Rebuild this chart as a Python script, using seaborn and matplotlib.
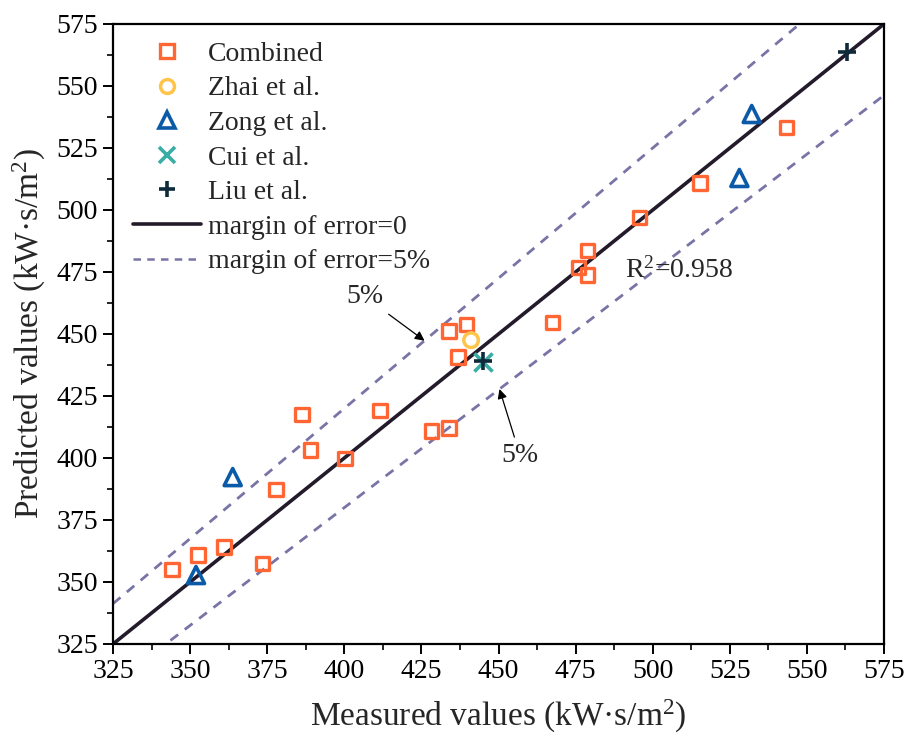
import matplotlib
matplotlib.use("Agg")
import matplotlib.pyplot as plt
from matplotlib.ticker import AutoMinorLocator
from matplotlib.lines import Line2D
import numpy as np
import pandas as pd
import seaborn as sns

# ---- data ----
combined_x = [344.2, 352.6, 361.0, 373.5, 377.8, 386.2, 389.0, 400.2, 411.5, 428.3,
              434.0, 434.0, 439.6, 436.8, 467.5, 475.9, 478.8, 478.8, 495.7, 515.3, 543.4]
combined_y = [355.1, 360.8, 364.2, 357.4, 387.2, 417.5, 403.2, 399.7, 419.2, 410.8,
              412.1, 451.3, 453.8, 440.7, 454.6, 476.9, 483.6, 473.8, 497.0, 510.8, 533.3]
zhai_x = [441.1]
zhai_y = [447.5]
zong_x = [351.9, 363.8, 528.1, 532.1]
zong_y = [352.8, 392.3, 512.9, 538.7]
cui_x = [445.1]
cui_y = [438.8]
liu_x = [444.8, 562.9]
liu_y = [439.0, 563.8]

line_x = [325, 575]
upper_factor = 1.05
lower_factor = 0.95

xticks = list(range(325, 576, 25))
yticks = list(range(325, 576, 25))

# ---- style ----
sns.set_theme(style="ticks")
plt.rcParams['font.family'] = ['Liberation Serif', 'DejaVu Serif']
plt.rcParams['mathtext.fontset'] = 'custom'
plt.rcParams['mathtext.rm'] = 'Liberation Serif'
plt.rcParams['mathtext.it'] = 'Liberation Serif:italic'
plt.rcParams['mathtext.default'] = 'regular'

c_comb = '#FF6633'
c_zhai = '#FFC44A'
c_zong = '#0B5AA8'
c_cui = '#3AADA5'
c_liu = '#0F2A3A'
c_line = '#231B2B'
c_dash = '#7874A6'

fig = plt.figure(figsize=(9.08, 7.47), dpi=100)
ax = fig.add_axes([0.1245, 0.1379, 0.9736 - 0.1245, 0.9679 - 0.1379])

lines_df = pd.DataFrame({
    'x': line_x,
    'y0': line_x,
    'yu': [v * upper_factor for v in line_x],
    'yl': [v * lower_factor for v in line_x],
})
sns.lineplot(data=lines_df, x='x', y='y0', ax=ax, color=c_line, lw=2.6, zorder=2)
sns.lineplot(data=lines_df, x='x', y='yu', ax=ax, color=c_dash, lw=2.0, zorder=2,
             dashes=False, linestyle=(0, (3.5, 3)))
sns.lineplot(data=lines_df, x='x', y='yl', ax=ax, color=c_dash, lw=2.0, zorder=2,
             dashes=False, linestyle=(0, (3.5, 3)))

sns.scatterplot(x=combined_x, y=combined_y, ax=ax, marker='s', s=95,
                facecolor='none', edgecolor=c_comb, linewidth=2.4, zorder=3)
sns.scatterplot(x=zhai_x, y=zhai_y, ax=ax, marker='o', s=110,
                facecolor='none', edgecolor=c_zhai, linewidth=2.5, zorder=3)
sns.scatterplot(x=zong_x, y=zong_y, ax=ax, marker='^', s=150,
                facecolor='none', edgecolor=c_zong, linewidth=2.6, zorder=3)
sns.scatterplot(x=cui_x, y=cui_y, ax=ax, marker='x', s=170,
                color=c_cui, linewidth=2.6, zorder=3)
sns.scatterplot(x=liu_x, y=liu_y, ax=ax, marker='+', s=170,
                color=c_liu, linewidth=2.6, zorder=4)

ax.set_xlim(325, 575)
ax.set_ylim(325, 575)
ax.set_xticks(xticks)
ax.set_yticks(yticks)
ax.xaxis.set_minor_locator(AutoMinorLocator(2))
ax.yaxis.set_minor_locator(AutoMinorLocator(2))
ax.tick_params(which='major', direction='out', length=7, width=1.4, colors='black',
               labelsize=20, pad=4, top=False, right=False)
ax.tick_params(which='minor', direction='out', length=4, width=1.2, colors='black',
               top=False, right=False)
for sp in ax.spines.values():
    sp.set_visible(True)
    sp.set_color('black')
    sp.set_linewidth(1.6)

ax.set_xlabel('Measured values (kW·s/m$^2$)', fontsize=24, labelpad=10)
ax.set_ylabel('Predicted values (kW·s/m$^2$)', fontsize=24, labelpad=6)

ax.text(491, 475.8, 'R$^2$=0.958', fontsize=20, ha='left', va='center')

arrow = dict(arrowstyle='-|>', color='black', lw=0.9, mutation_scale=14,
             shrinkA=2, shrinkB=0)
ax.annotate('5%', xy=(426.0, 447.3), xytext=(406.7, 465.0), fontsize=20,
            ha='center', va='center', arrowprops=arrow)
ax.annotate('5%', xy=(450.3, 427.8), xytext=(457.0, 401.0), fontsize=20,
            ha='center', va='center', arrowprops=arrow)

handles = [
    Line2D([], [], ls='none', marker='s', ms=9.5, mfc='none', mec=c_comb, mew=2.4),
    Line2D([], [], ls='none', marker='o', ms=10, mfc='none', mec=c_zhai, mew=2.5),
    Line2D([], [], ls='none', marker='^', ms=11, mfc='none', mec=c_zong, mew=2.6),
    Line2D([], [], ls='none', marker='x', ms=12, color=c_cui, mew=2.6),
    Line2D([], [], ls='none', marker='+', ms=12, color=c_liu, mew=2.6),
    Line2D([], [], color=c_line, lw=2.6),
    Line2D([], [], color=c_dash, lw=1.8, ls=(0, (3, 2.5))),
]
labels = ['Combined', 'Zhai et al.', 'Zong et al.', 'Cui et al.', 'Liu et al.',
          'margin of error=0', 'margin of error=5%']
ax.legend(handles, labels, loc='upper left', frameon=False, fontsize=20,
          handlelength=2.45, handletextpad=0.25, labelspacing=0.33,
          borderaxespad=0.0, bbox_to_anchor=(0.011, 0.99))

fig.savefig('out.png', dpi=100)
